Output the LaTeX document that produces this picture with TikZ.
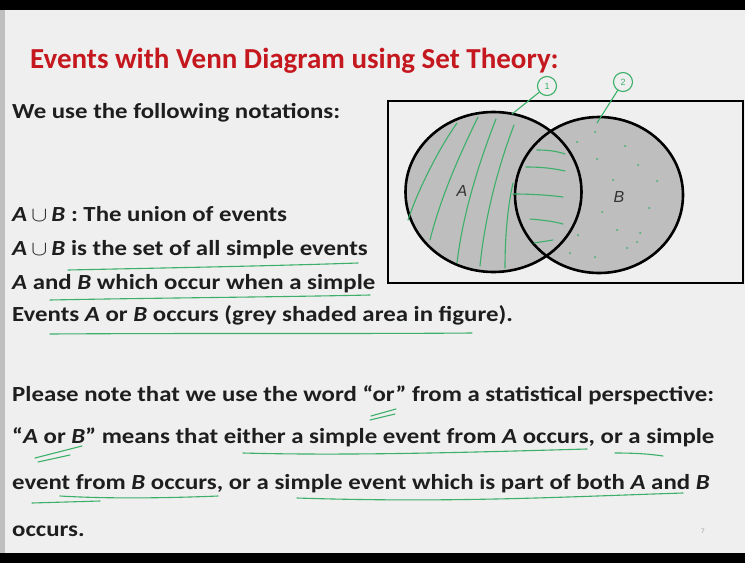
\documentclass[tikz,border=0pt]{standalone}
\usepackage{fontspec}
\usepackage{graphicx}
\setmainfont{Carlito}
\newfontfamily\lab{Liberation Sans}
\usetikzlibrary{shapes.geometric}
\definecolor{bgc}{RGB}{239,239,239}
\definecolor{titlered}{RGB}{196,24,30}
\definecolor{txt}{RGB}{30,30,30}
\definecolor{shade}{RGB}{190,190,190}
\definecolor{pen}{RGB}{60,175,105}
\newcommand{\iA}{\textit{A}}
\newcommand{\iB}{\textit{B}}
\newcommand{\un}{\,$\cup$\,}
\newcommand{\sx}[1]{\scalebox{1.155}[1]{#1}}
\tikzset{
  line/.style={anchor=base west, inner sep=0pt, font=\bfseries\fontsize{21.5}{21.5}\selectfont, text=txt},
  ttl/.style={anchor=base west, inner sep=0pt, font=\bfseries\fontsize{29}{29}\selectfont, text=titlered},
  ink/.style={draw=pen, line width=1.1pt, line cap=round},
  setfill/.style={fill=shade},
  setline/.style={draw=black, line width=2.6pt},
  setlab/.style={font=\lab\itshape\fontsize{16}{16}\selectfont, text=black!80, inner sep=0pt},
  numc/.style={circle, draw=pen, line width=1.1pt, minimum size=19pt, inner sep=0pt, text=pen, font=\lab\fontsize{9}{9}\selectfont},
  dot/.style={fill=pen, circle, inner sep=0pt, minimum size=2pt}
}
\begin{document}
\begin{tikzpicture}[x=1pt,y=-1pt]
\useasboundingbox (0,0) rectangle (745,563);
\fill[bgc] (0,0) rectangle (745,563);
\fill[black] (0,0) rectangle (745,10);
\fill[black] (0,553) rectangle (745,563);
\fill[black!25] (0,10) rectangle (5,553);
% title and text
\node[ttl] (title) at (30,68) {Events with Venn Diagram using Set Theory:};
\node[line] (t0) at (12,118) {\sx{We use the following notations:}};
\node[line] (t1) at (12,221) {\sx{\iA\un\iB\ : The union of events}};
\node[line] (t2) at (12,255) {\sx{\iA\un\iB\ is the set of all simple events}};
\node[line] (t3) at (12,289) {\sx{\iA\ and \iB\ which occur when a simple}};
\node[line] (t4) at (12,321) {\sx{Events \iA\ or \iB\ occurs (grey shaded area in figure).}};
\node[line] (t5) at (12,401) {\sx{Please note that we use the word “or” from a statistical perspective:}};
\node[line] (t6) at (12,443) {\sx{“\iA\ or \iB”\ means that either a simple event from \iA\ occurs, or a simple}};
\node[line] (t7) at (12,489) {\sx{event from \iB\ occurs, or a simple event which is part of both \iA\ and \iB}};
\node[line] (t8) at (12,536) {\sx{occurs.}};
\node[anchor=base, inner sep=0pt, font=\fontsize{7}{7}\selectfont, text=black!35] (pg) at (703,533) {7};
% Venn diagram
\draw[black, line width=2.4pt] (388,101) rectangle (743,283);
\node[ellipse, setfill, minimum width=176pt, minimum height=160pt, inner sep=0pt] (eA) at (493.5,192) {};
\node[ellipse, setfill, minimum width=168pt, minimum height=156pt, inner sep=0pt] (eB) at (599,195) {};
\draw[setline] (eA.center) ellipse [x radius=88, y radius=80];
\draw[setline] (eB.center) ellipse [x radius=84, y radius=78];
\node[setlab] (la) at (462,191) {A};
\node[setlab] (lb) at (619,197) {B};
% hatching in A
\draw[ink] (457,123) .. controls (438,150) and (418,190) .. (408,220);
\draw[ink] (478,117) .. controls (457,160) and (440,200) .. (430,240);
\draw[ink] (496,119) .. controls (476,170) and (462,220) .. (457,263);
\draw[ink] (514,125) .. controls (495,175) and (484,225) .. (480,266);
\draw[ink] (513,183) .. controls (507,210) and (505,240) .. (505,268);
% horizontal lines in the overlap
\draw[ink] (537,150) .. controls (548,150) and (556,151) .. (565,154);
\draw[ink] (526,167) .. controls (540,167) and (552,168) .. (565,171);
\draw[ink] (513,194) .. controls (530,194) and (548,195) .. (563,197);
\draw[ink] (530,219) .. controls (542,220) and (552,221) .. (563,224);
\draw[ink] (534,243) .. controls (540,242) and (547,241) .. (553,240);
% dots in B
\foreach \p [count=\i] in {(595,132),(577,142),(625,146),(597,159),(638,165),(613,180),(657,181),(602,212),(649,208),(578,235),(617,230),(640,233),(637,242),(627,248),(570,253),(595,257)}
  \node[dot] (d\i) at \p {};
% circled numbers
\node[numc] (c1) at (547,86) {1};
\node[numc] (c2) at (623,82) {2};
\coordinate (p1) at (512,114);
\coordinate (p2) at (597,123);
\draw[ink] (c1) -- (p1);
\draw[ink] (c2) -- (p2);
% underlines
\draw[ink] (68,270) .. controls (160,268) and (270,266) .. (358,263);
\draw[ink] (50,300) .. controls (150,298) and (280,297) .. (370,295);
\draw[ink] (50,334) .. controls (200,333) and (350,334) .. (472,333);
\draw[ink] (371,416) -- (396,409);
\draw[ink] (370,420) -- (395,414);
\draw[ink] (35,458) -- (82,446);
\draw[ink] (38,462) -- (70,455);
\draw[ink] (243,453) .. controls (350,456) and (480,452) .. (587,449);
\draw[ink] (615,453) .. controls (635,453) and (650,454) .. (663,456);
\draw[ink] (32,503) -- (100,501);
\draw[ink] (60,496) .. controls (110,499) and (170,498) .. (218,496);
\draw[ink] (297,498) .. controls (450,503) and (560,497) .. (683,493);
\end{tikzpicture}
\end{document}
